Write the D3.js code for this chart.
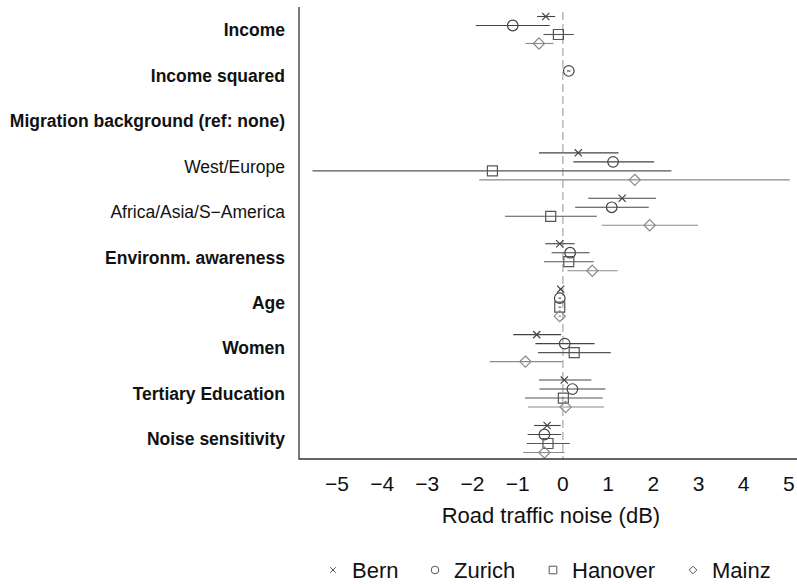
<!DOCTYPE html>
<html>
<head>
<meta charset="utf-8">
<script src="https://cdn.jsdelivr.net/npm/d3@7"></script>
<style>
  body { margin: 0; background: #fff; }
  svg { display: block; font-family: "Liberation Sans", Arial, sans-serif; }
</style>
</head>
<body>
<svg id="chart" width="797" height="584"></svg>
<script>
// Rows of the coefficient plot (top to bottom)
const categories = [
  'Income', 'Income squared', 'Migration background (ref: none)', 'West/Europe',
  'Africa/Asia/S\u2212America', 'Environm. awareness', 'Age', 'Women',
  'Tertiary Education', 'Noise sensitivity'
];
const boldRows = [true, true, true, false, false, true, true, true, true, true];

const seriesNames = ['Bern', 'Zurich', 'Hanover', 'Mainz'];
const seriesShapes = ['cross', 'circle', 'square', 'diamond'];
const seriesColors = ['#444', '#444', '#555', '#8a8a8a'];

// Estimates and confidence bounds per city (null = not estimated)
const bernEst   = [-0.38, null, null, 0.34, 1.31, -0.07, -0.05, -0.58, 0.03, -0.35];
const bernLow   = [-0.57, null, null, -0.53, 0.56, -0.39, -0.08, -1.10, -0.53, -0.64];
const bernHigh  = [-0.17, null, null, 1.23, 2.06, 0.26, -0.02, -0.04, 0.63, -0.05];

const zurichEst  = [-1.11, 0.13, null, 1.11, 1.08, 0.16, -0.07, 0.04, 0.21, -0.41];
const zurichLow  = [-1.93, 0.09, null, 0.23, 0.27, -0.25, -0.10, -0.61, -0.52, -0.78];
const zurichHigh = [-0.29, 0.17, null, 2.02, 1.90, 0.59, -0.04, 0.70, 0.94, -0.04];

const hanoverEst  = [-0.10, null, null, -1.56, -0.27, 0.13, -0.07, 0.25, 0.01, -0.33];
const hanoverLow  = [-0.43, null, null, -5.54, -1.28, -0.42, -0.10, -0.55, -0.84, -0.80];
const hanoverHigh = [0.24, null, null, 2.40, 0.75, 0.68, -0.04, 1.06, 0.88, 0.15];

const mainzEst  = [-0.53, null, null, 1.59, 1.92, 0.65, -0.07, -0.83, 0.06, -0.41];
const mainzLow  = [-0.83, null, null, -1.85, 0.86, 0.10, -0.10, -1.62, -0.77, -0.88];
const mainzHigh = [-0.21, null, null, 5.02, 2.99, 1.21, -0.04, -0.02, 0.91, 0.04];

const xTicks = [-5, -4, -3, -2, -1, 0, 1, 2, 3, 4, 5];

const estimates = [bernEst, zurichEst, hanoverEst, mainzEst];
const lows = [bernLow, zurichLow, hanoverLow, mainzLow];
const highs = [bernHigh, zurichHigh, hanoverHigh, mainzHigh];

const svg = d3.select('#chart');
const plotLeft = 299, plotRight = 797, plotTop = 7, plotBottom = 459;

const x = d3.scaleLinear().domain([-5.84, 5.18]).range([plotLeft, plotRight]);
const y = d3.scalePoint().domain(categories).range([30, 439]);
const offset = d3.scalePoint().domain(seriesNames).range([-13.5, 13.5]);

// flatten into mark records
const points = [];
seriesNames.forEach((name, s) => {
  categories.forEach((cat, i) => {
    if (estimates[s][i] == null) return;
    points.push({ name, s, cat, est: estimates[s][i], lo: lows[s][i], hi: highs[s][i] });
  });
});

// zero reference line
svg.append('line')
  .attr('x1', x(0)).attr('x2', x(0))
  .attr('y1', plotTop + 5).attr('y2', plotBottom)
  .attr('stroke', '#999')
  .attr('stroke-width', 1)
  .attr('stroke-dasharray', '8,4');

// confidence intervals
svg.append('g')
  .selectAll('line')
  .data(points)
  .join('line')
  .attr('x1', d => x(d.lo))
  .attr('x2', d => x(d.hi))
  .attr('y1', d => y(d.cat) + offset(d.name))
  .attr('y2', d => y(d.cat) + offset(d.name))
  .attr('stroke', d => seriesColors[d.s])
  .attr('stroke-width', 1.1);

const shapePath = (shape, r) => {
  switch (shape) {
    case 'cross': return `M${-r},${-r}L${r},${r}M${-r},${r}L${r},${-r}`;
    case 'square': return `M${-r},${-r}H${r}V${r}H${-r}Z`;
    case 'diamond': return `M0,${-r}L${r},0L0,${r}L${-r},0Z`;
    default: return d3.arc()({ innerRadius: 0, outerRadius: r, startAngle: 0, endAngle: 2 * Math.PI });
  }
};
const markerSize = { cross: 3.6, circle: 5.3, square: 5, diamond: 5.6 };

// point estimates
svg.append('g')
  .selectAll('path')
  .data(points)
  .join('path')
  .attr('transform', d => `translate(${x(d.est)},${y(d.cat) + offset(d.name)})`)
  .attr('d', d => shapePath(seriesShapes[d.s], markerSize[seriesShapes[d.s]]))
  .attr('fill', 'none')
  .attr('stroke', d => seriesColors[d.s])
  .attr('stroke-width', 1.2);

// row labels
svg.append('g')
  .selectAll('text')
  .data(categories)
  .join('text')
  .attr('x', 285)
  .attr('y', d => y(d))
  .attr('dy', '0.36em')
  .attr('text-anchor', 'end')
  .style('font-size', '17.5px')
  .style('font-weight', (d, i) => boldRows[i] ? 'bold' : 'normal')
  .style('fill', '#111')
  .text(d => d);

// frame: left and bottom axis lines
svg.append('path')
  .attr('d', `M${plotLeft},${plotTop}V${plotBottom}H${plotRight}`)
  .attr('fill', 'none')
  .attr('stroke', '#333')
  .attr('stroke-width', 1.3);

// x tick labels (no tick marks)
svg.append('g')
  .selectAll('text')
  .data(xTicks)
  .join('text')
  .attr('x', d => x(d))
  .attr('y', 491)
  .attr('text-anchor', 'middle')
  .style('font-size', '21px')
  .style('fill', '#111')
  .text(d => d3.format('d')(d));

svg.append('text')
  .attr('x', x(0) - 12)
  .attr('y', 523)
  .attr('text-anchor', 'middle')
  .style('font-size', '22px')
  .style('fill', '#111')
  .text('Road traffic noise (dB)');

// legend
const legendX = [333, 435, 553, 693];
const legend = svg.append('g')
  .selectAll('g')
  .data(seriesNames)
  .join('g')
  .attr('transform', (d, i) => `translate(${legendX[i]},570)`);

legend.append('path')
  .attr('d', (d, i) => shapePath(seriesShapes[i], seriesShapes[i] === 'cross' ? 2.8 : 3.8))
  .attr('fill', 'none')
  .attr('stroke', '#555')
  .attr('stroke-width', 1);

legend.append('text')
  .attr('x', 19)
  .attr('y', 8)
  .style('font-size', '22px')
  .style('fill', '#111')
  .text(d => d);
</script>
</body>
</html>
